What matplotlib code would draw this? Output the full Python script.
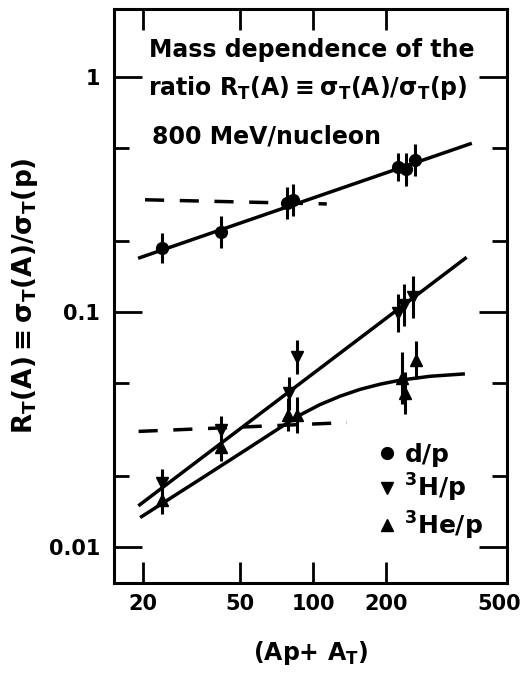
import numpy as np
import matplotlib
matplotlib.use('Agg')
import matplotlib.pyplot as plt
import matplotlib.transforms as mtransforms
from matplotlib.lines import Line2D

plt.rcParams['font.family'] = ['DejaVu Sans']
plt.rcParams['font.weight'] = 'bold'
plt.rcParams['axes.labelweight'] = 'bold'
plt.rcParams['mathtext.default'] = 'regular'

# d/p ratio
A_d = [24, 42, 78, 83, 224, 242, 262]
R_d = [0.187, 0.218, 0.291, 0.300, 0.415, 0.405, 0.443]
dlog_d = [0.064, 0.068, 0.068, 0.068, 0.060, 0.070, 0.070]

# 3H/p ratio
A_t = [24, 42, 80, 86, 224, 237, 259]
R_t = [0.0187, 0.0315, 0.0451, 0.0645, 0.0987, 0.107, 0.116]
dlog_t = [0.060, 0.060, 0.070, 0.072, 0.080, 0.090, 0.090]

# 3He/p ratio
A_he = [24, 42, 79, 86, 232, 239, 266]
R_he = [0.0159, 0.0267, 0.0365, 0.0365, 0.0522, 0.0451, 0.0625]
dlog_he = [0.060, 0.060, 0.070, 0.077, 0.110, 0.090, 0.080]

# fitted curves
fit_d_A = [19.4, 443]
fit_d_R = [0.170, 0.519]
fit_t_A = [19.4, 423]
fit_t_R = [0.0151, 0.169]
fit_he_A = [19.75, 34.6, 55.6, 78.2, 88.5, 106.9, 129.3, 156.2, 188.9, 228.3, 303.4, 414.6]
fit_he_R = [0.01345, 0.01948, 0.02672, 0.0336, 0.03641, 0.04031, 0.04377,
            0.0468, 0.04924, 0.05121, 0.05321, 0.05441]

# dashed reference levels
dash_hi_A = [20.4, 114]
dash_hi_R = [0.300, 0.288]
dash_lo_A = [19.2, 138]
dash_lo_R = [0.031, 0.0338]

xticks = [20, 50, 100, 200, 500]
yticks = [0.01, 0.1, 1]
yminor = [0.02, 0.05, 0.2, 0.5]


def yerr(r, d):
    r = np.array(r)
    d = np.array(d)
    return [r - r * 10 ** (-d), r * 10 ** d - r]


fig = plt.figure(figsize=(5.3, 6.73), dpi=100)
ax = fig.add_axes([0.215, 0.134, 0.742, 0.853])
ax.set_xscale('log')
ax.set_yscale('log')
ax.set_xlim(15.2, 629)
ax.set_ylim(0.00703, 1.95)

lw = 2.5
ax.plot(fit_d_A, fit_d_R, color='black', lw=lw)
ax.plot(fit_t_A, fit_t_R, color='black', lw=lw)
ax.plot(fit_he_A, fit_he_R, color='black', lw=lw)
ax.plot(dash_hi_A, dash_hi_R, color='black', lw=lw, dashes=(5.5, 4.5))
ax.plot(dash_lo_A, dash_lo_R, color='black', lw=lw, dashes=(5.5, 4.5))

ekw = dict(ls='none', color='black', ecolor='black', elinewidth=2.2, capsize=0)
ax.errorbar(A_d, R_d, yerr=yerr(R_d, dlog_d), marker='o', ms=8.5, **ekw)
ax.errorbar(A_t, R_t, yerr=yerr(R_t, dlog_t), marker='v', ms=8.5, **ekw)
ax.errorbar(A_he, R_he, yerr=yerr(R_he, dlog_he), marker='^', ms=8.5, **ekw)

for s in ax.spines.values():
    s.set_linewidth(2.2)

ax.set_xticks(xticks)
ax.set_xticklabels([str(t) for t in xticks])
ax.xaxis.set_minor_locator(matplotlib.ticker.NullLocator())
ax.set_yticks(yticks)
ax.set_yticklabels(['0.01', '0.1', '1'])
ax.set_yticks(yminor, minor=True)
ax.yaxis.set_minor_formatter(matplotlib.ticker.NullFormatter())

ax.tick_params(axis='x', which='major', direction='in', length=15, width=2,
               top=True, labelsize=15, pad=8)
ax.tick_params(axis='y', which='major', direction='in', length=20, width=2,
               right=True, labelsize=15, pad=10)
ax.tick_params(axis='y', which='minor', direction='in', length=11, width=2,
               right=True)

# the 500 label sits at the right edge with no tick mark
t500 = ax.xaxis.get_major_ticks()[-1]
t500.tick1line.set_visible(False)
t500.tick2line.set_visible(False)
off = mtransforms.ScaledTranslation(16 / 100, 0, fig.dpi_scale_trans)
t500.label1.set_transform(t500.label1.get_transform() + off)

ax.set_xlabel('(Ap+ A$_T$)', fontsize=17, labelpad=18)
ax.set_ylabel(r'R$_T$(A)$\equiv$$\sigma_T$(A)/$\sigma_T$(p)', fontsize=19, labelpad=6)

ax.text(0.089, 0.929, 'Mass dependence of the', transform=ax.transAxes,
        fontsize=17, va='center')
ax.text(0.086, 0.862, r'ratio R$_T$(A)$\equiv$$\sigma_T$(A)/$\sigma_T$(p)',
        transform=ax.transAxes, fontsize=17, va='center')
ax.text(0.097, 0.777, '800 MeV/nucleon', transform=ax.transAxes,
        fontsize=17, va='center')

handles = [Line2D([], [], ls='none', marker='o', color='black', ms=8.5),
           Line2D([], [], ls='none', marker='v', color='black', ms=8.5),
           Line2D([], [], ls='none', marker='^', color='black', ms=8.5)]
ax.legend(handles, ['d/p', '$^3$H/p', '$^3$He/p'], loc='lower left',
          bbox_to_anchor=(0.637, 0.05), frameon=False, fontsize=18,
          handlelength=0.8, handletextpad=0.3, labelspacing=0.2,
          borderpad=0)

fig.savefig('out.png', dpi=100)
